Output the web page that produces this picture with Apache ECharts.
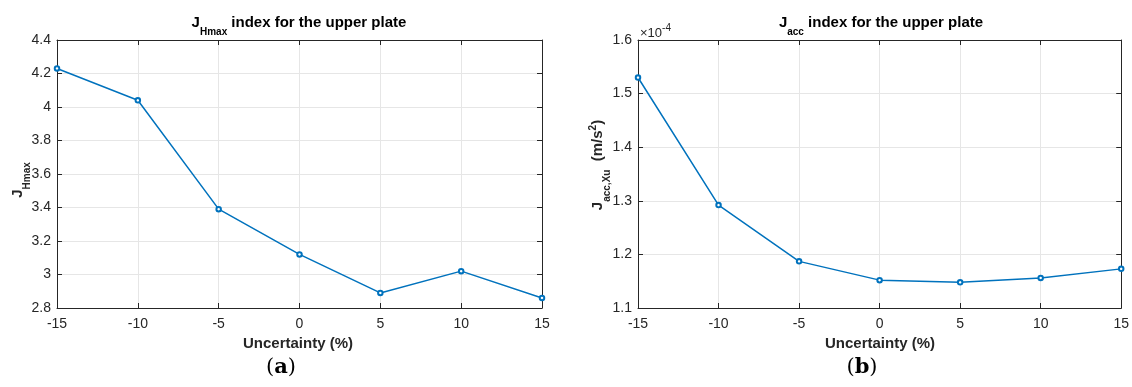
<!DOCTYPE html>
<html>
<head>
<meta charset="utf-8">
<script src="https://cdn.jsdelivr.net/npm/echarts@6/dist/echarts.min.js"></script>
<style>
  html, body { margin: 0; padding: 0; background: #ffffff; }
  #chart { width: 1132px; height: 387px; }
</style>
</head>
<body>
<div id="chart"></div>
<script>
// Uncertainty levels (%) on the horizontal axis
const uncertainty = [-15, -10, -5, 0, 5, 10, 15];
// J_Hmax index for the upper plate
const jHmax = [4.23, 4.04, 3.39, 3.12, 2.89, 3.02, 2.86];
// J_acc index for the upper plate, in units of 1e-4 m/s^2
const jAccE4 = [1.530, 1.292, 1.187, 1.152, 1.148, 1.156, 1.173];

// Axis ranges and tick steps
const xRange = { min: -15, max: 15, step: 5 };
const hmaxRange = { min: 2.8, max: 4.4, step: 0.2 };
const accRange = { min: 1.1, max: 1.6, step: 0.1 };

const INK = '#262626';
const GRIDLINE = '#e6e6e6';
const LINE = '#0072BD';
const SANS = '"Liberation Sans", Arial, Helvetica, sans-serif';
const SERIF = '"DejaVu Serif", "Liberation Serif", serif';

const chart = echarts.init(document.getElementById('chart'), null, { renderer: 'canvas' });

function xAxes(gridIndex) {
  const base = {
    gridIndex, type: 'value', min: xRange.min, max: xRange.max, interval: xRange.step,
    axisLine: { show: true, onZero: false, lineStyle: { color: INK, width: 1 } },
    axisTick: { show: true, inside: true, length: 5, lineStyle: { color: INK } }
  };
  return [
    Object.assign({}, base, {
      position: 'bottom',
      axisLabel: { show: true, color: INK, fontSize: 14, fontFamily: SANS, margin: 9 },
      splitLine: { show: true, lineStyle: { color: GRIDLINE, width: 1 } }
    }),
    Object.assign({}, base, {
      position: 'top',
      axisLabel: { show: false },
      splitLine: { show: false }
    })
  ];
}

function yAxes(gridIndex, range) {
  const base = {
    gridIndex, type: 'value', min: range.min, max: range.max, interval: range.step,
    axisLine: { show: true, onZero: false, lineStyle: { color: INK, width: 1 } },
    axisTick: { show: true, inside: true, length: 5, lineStyle: { color: INK } }
  };
  return [
    Object.assign({}, base, {
      position: 'left',
      axisLabel: {
        show: true, color: INK, fontSize: 14, fontFamily: SANS, margin: 6,
        formatter: v => String(+v.toFixed(2))
      },
      splitLine: { show: true, lineStyle: { color: GRIDLINE, width: 1 } }
    }),
    Object.assign({}, base, {
      position: 'right',
      axisLabel: { show: false },
      splitLine: { show: false }
    })
  ];
}

function lineSeries(xIdx, yIdx, values) {
  return {
    type: 'line',
    xAxisIndex: xIdx, yAxisIndex: yIdx,
    data: uncertainty.map((u, i) => [u, values[i]]),
    symbol: 'emptyCircle', symbolSize: 4.5,
    lineStyle: { color: LINE, width: 1.5 },
    itemStyle: { color: LINE, borderColor: LINE, borderWidth: 1.5 },
    animation: false
  };
}

// Rich styles for bold labels with sub- and superscripts
function richBold(color) {
  return {
    m: { font: 'bold 15px ' + SANS, fill: color, lineHeight: 28 },
    sub: { font: 'bold 10px ' + SANS, fill: color, verticalAlign: 'bottom' },
    sup: { font: 'bold 10px ' + SANS, fill: color, verticalAlign: 'top', padding: [4, 0, 0, 0] }
  };
}

function label(x, y, text, color, rotation) {
  const el = {
    type: 'text', x, y,
    style: {
      text, textAlign: 'center', textVerticalAlign: 'middle',
      font: 'bold 15px ' + SANS, fill: color, rich: richBold(color)
    }
  };
  if (rotation) el.rotation = rotation;
  return el;
}

function panelLetter(x, y, letter) {
  return {
    type: 'text', x, y,
    style: {
      text: '{p|(}{a|' + letter + '}{p|)}', textAlign: 'center', textVerticalAlign: 'middle',
      rich: {
        p: { font: '21px ' + SERIF, fill: '#000' },
        a: { font: 'bold 21px ' + SERIF, fill: '#000' }
      }
    }
  };
}

const option = {
  animation: false,
  backgroundColor: '#ffffff',
  grid: [
    { left: 57, right: 590, top: 40, bottom: 79, show: false, containLabel: false },
    { left: 638, right: 9, top: 40, bottom: 79, show: false, containLabel: false }
  ],
  xAxis: [].concat(xAxes(0), xAxes(1)),
  yAxis: [].concat(yAxes(0, hmaxRange), yAxes(1, accRange)),
  series: [
    lineSeries(0, 0, jHmax),
    lineSeries(2, 2, jAccE4)
  ],
  graphic: [
    // panel titles
    label(299, 23, '{m|J}{sub|Hmax}{m| index for the upper plate}', '#000'),
    label(881, 23, '{m|J}{sub|acc}{m| index for the upper plate}', '#000'),
    // x axis names
    label(298, 344, 'Uncertainty (%)', INK),
    label(880, 344, 'Uncertainty (%)', INK),
    // y axis names, reading bottom to top
    label(18, 180, '{m|J}{sub|Hmax}', INK, Math.PI / 2),
    label(598, 165, '{m|J}{sub|acc,Xu}{m|  (m/s}{sup|2}{m|)}', INK, Math.PI / 2),
    // exponent of the right-hand y axis
    {
      type: 'text', x: 640, y: 33,
      style: {
        text: '{a|\u00d710}{b|-4}', textAlign: 'left', textVerticalAlign: 'middle',
        rich: {
          a: { font: '13px ' + SANS, fill: INK, lineHeight: 20 },
          b: { font: '10px ' + SANS, fill: INK, verticalAlign: 'top' }
        }
      }
    },
    // panel letters
    panelLetter(281, 368, 'a'),
    panelLetter(862, 368, 'b')
  ]
};

chart.setOption(option);
</script>
</body>
</html>
